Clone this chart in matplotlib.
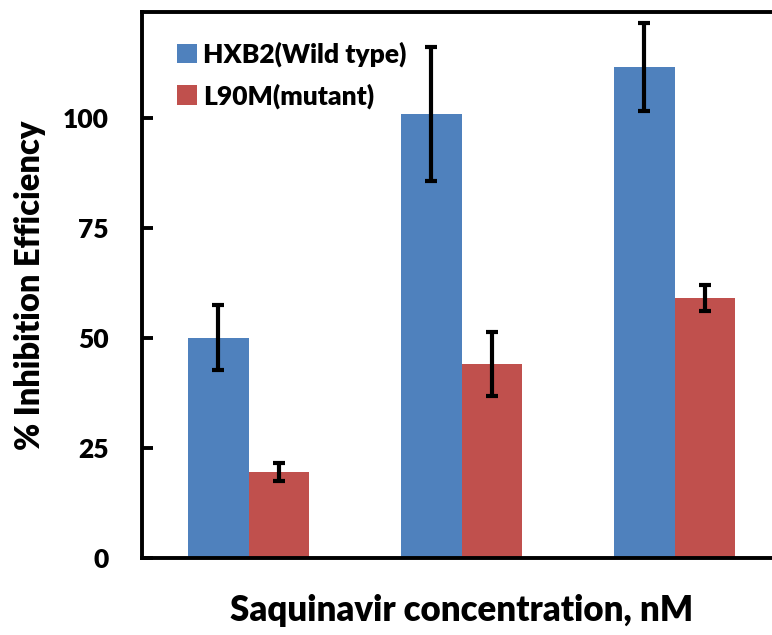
import numpy as np
import matplotlib
matplotlib.use("Agg")
import matplotlib.pyplot as plt

# values
groups = ["1", "2", "3"]
wild_type = [50.0, 100.8, 111.5]
wild_err = [7.4, 15.2, 10.0]
mutant = [19.5, 44.0, 59.1]
mutant_err = [2.0, 7.3, 2.9]
y_ticks = [0, 25, 50, 75, 100]

plt.rcParams['font.family'] = ['Lato', 'DejaVu Sans']
plt.rcParams['font.weight'] = 'heavy'

fig = plt.figure(figsize=(7.72, 6.35), dpi=100)
# plot area runs a bit past the right edge, like the cropped original
ax = fig.add_axes([0.184, 0.1217, 0.828, 0.859])

x = np.arange(len(groups))
w = 0.285
err_style = dict(ecolor='black', elinewidth=3, capsize=4, capthick=3)

ax.bar(x - w / 2, wild_type, w, color='#4F81BD', yerr=wild_err,
       error_kw=err_style, label='HXB2(Wild type)')
ax.bar(x + w / 2, mutant, w, color='#C0504D', yerr=mutant_err,
       error_kw=err_style, label='L90M(mutant)')

ax.set_xlim(-0.5, 2.5)
ax.set_ylim(0, 124)
ax.set_yticks(y_ticks)
ax.set_xticks([])
ax.tick_params(axis='y', direction='in', length=8, width=2.8, labelsize=19, pad=24)
for s in ax.spines.values():
    s.set_linewidth(2.8)

ax.set_ylabel('% Inhibition Efficiency', fontsize=23.5, fontweight='heavy', labelpad=12)
ax.set_xlabel('Saquinavir concentration, nM', fontsize=25, fontweight='heavy', labelpad=26)

ax.legend(loc='upper left', bbox_to_anchor=(0.03, 0.975), frameon=False,
          fontsize=19, handlelength=0.75, handleheight=0.75, handletextpad=0.25,
          labelspacing=0.6, borderaxespad=0.2)

fig.savefig('out.png', dpi=100)
